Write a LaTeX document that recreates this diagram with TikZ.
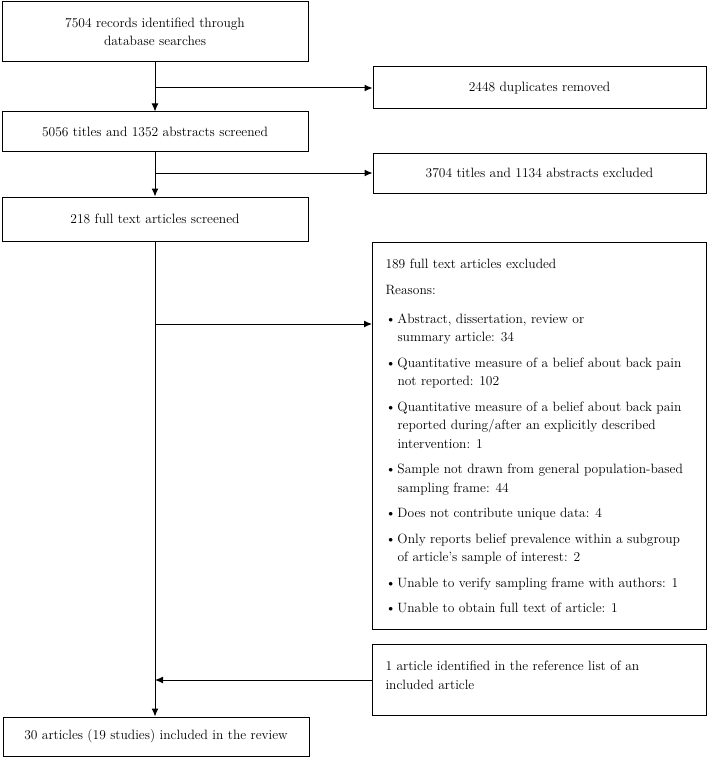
\documentclass[tikz,border=0pt]{standalone}
\usepackage{tikz}
\usetikzlibrary{positioning,arrows.meta,calc}
\tikzset{
  stage/.style={draw,line width=1pt,minimum width=306pt,align=center,inner sep=2pt},
  outbox/.style={draw,line width=1pt,minimum width=333pt,align=center,inner sep=2pt},
  notebox/.style={draw,line width=1pt,inner xsep=13pt,inner ysep=0pt,anchor=north west},
  flow/.style={-{Latex[length=8pt,width=7pt]},line width=1pt},
}
\newcommand{\rsnitem}[1]{\par\hangindent=12pt\hangafter=1\noindent\makebox[12pt][l]{\textbullet}#1}

\begin{document}
\begin{tikzpicture}[x=1pt,y=-1pt,every node/.style={font=\fontsize{13.5}{18.5}\selectfont}]
  \useasboundingbox (0,0) rectangle (709,757);
  % main column
  \node[stage,minimum height=60pt] (rec)  at (155,32)    {7504 records identified through\\database searches};
  \node[stage,minimum height=39pt] (scr)  at (155,131.5) {5056 titles and 1352 abstracts screened};
  \node[stage,minimum height=44pt] (full) at (155,219)   {218 full text articles screened};
  \node[stage,minimum height=39pt] (inc)  at (156,736.5) {30 articles (19 studies) included in the review};
  % side boxes
  \node[outbox,minimum height=42pt] (dup) at (539.5,88)  {2448 duplicates removed};
  \node[outbox,minimum height=40pt] (exc) at (539.5,173) {3704 titles and 1134 abstracts excluded};
  \node[notebox] (rsn) at (372,242) {\parbox[c][387pt][t]{308pt}{\raggedright\setlength{\parskip}{7pt}%
    \rule{0pt}{26pt}189 full text articles excluded\par
    Reasons:\par\vspace{3.5pt}%
    \rsnitem{Abstract, dissertation, review or\newline summary article: 34}
    \rsnitem{Quantitative measure of a belief about back pain\newline not reported: 102}
    \rsnitem{Quantitative measure of a belief about back pain\newline reported during/after an explicitly described\newline intervention: 1}
    \rsnitem{Sample not drawn from general population-based\newline sampling frame: 44}
    \rsnitem{Does not contribute unique data: 4}
    \rsnitem{Only reports belief prevalence within a subgroup\newline of article's sample of interest: 2}
    \rsnitem{Unable to verify sampling frame with authors: 1}
    \rsnitem{Unable to obtain full text of article: 1}\par}};
  \node[notebox] (ref) at (372,644) {\parbox[c][71pt][t]{308pt}{\raggedright
    \rule{0pt}{26pt}1 article identified in the reference list of an\\included article}};
  \coordinate (rsnin) at (372,324);
  \draw[flow] (rec.south) -- (scr.north);
  \draw[flow] (rec.south |- dup.west) -- (dup.west);
  \draw[flow] (scr.south) -- (full.north);
  \draw[flow] (scr.south |- exc.west) -- (exc.west);
  \draw[flow] (full.south) -- (full.south |- inc.north);
  \draw[flow] (full.south |- rsnin) -- (rsnin);
  \draw[flow] (ref.west) -- (full.south |- ref.west);
\end{tikzpicture}
\end{document}
